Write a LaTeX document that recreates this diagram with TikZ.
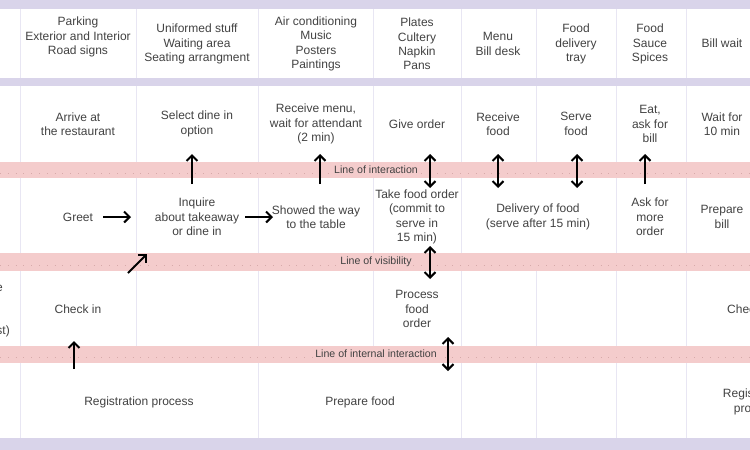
\documentclass[tikz,border=0pt]{standalone}
\usepackage{fontspec}
\setmainfont{Liberation Sans}
\usetikzlibrary{arrows.meta}
\definecolor{lav}{RGB}{217,212,234}
\definecolor{pinkb}{RGB}{244,204,204}
\definecolor{dotc}{RGB}{215,170,170}
\definecolor{vl}{RGB}{232,230,243}
\definecolor{txtc}{RGB}{66,66,66}
\begin{document}
\begin{tikzpicture}[x=1pt,y=-1pt,
  vline/.style={draw=vl,line width=1pt},
  dotline/.style={draw=dotc,line width=0.6pt,dash pattern=on 0.8pt off 7pt},
  txt/.style={text=txtc,align=center,inner sep=0pt,font=\fontsize{12}{14.3}\selectfont},
  lbl/.style={text=txtc,align=center,inner sep=0pt,font=\fontsize{10.6}{12}\selectfont},
  arr/.style={draw=black,line width=2.1pt,-{Straight Barb[length=5.5pt,width=11pt]}},
  darr/.style={draw=black,line width=2.1pt,{Straight Barb[length=5.5pt,width=11pt]}-{Straight Barb[length=5.5pt,width=11pt]}}]
\useasboundingbox (0,0) rectangle (750,450);
\clip (0,0) rectangle (750,450);
\fill[white] (0,0) rectangle (750,450);
% vertical separators
\foreach \x in {20,136,258,373,461,536,616,686} \draw[vline] (\x,9) -- (\x,162);
\foreach \x in {20,136,258,373,461,616,686} \draw[vline] (\x,178) -- (\x,253);
\foreach \x in {20,136,258,373,461,536,616,686} \draw[vline] (\x,271) -- (\x,346);
\foreach \x in {20,258,461,536,616,686} \draw[vline] (\x,363) -- (\x,438);
% bands
\fill[lav] (0,0) rectangle (750,9);
\fill[lav] (0,78) rectangle (750,86);
\fill[lav] (0,438) rectangle (750,450);
\fill[pinkb] (0,162) rectangle (750,178);
\fill[pinkb] (0,253) rectangle (750,271);
\fill[pinkb] (0,346) rectangle (750,363);
\draw[dotline] (0,173) -- (750,173);
\draw[dotline] (0,265) -- (750,265);
\draw[dotline] (0,357) -- (750,357);
\node[lbl,fill=pinkb,inner sep=1pt] (li) at (376,170) {Line of interaction};
\node[lbl,fill=pinkb,inner sep=1pt] (lv) at (376,262) {Line of visibility};
\node[lbl,fill=pinkb,inner sep=1pt] (lii) at (376,354) {Line of internal interaction};
% header row
\node[txt] (h1) at (78,37) {Parking\\Exterior and Interior\\Road signs};
\node[txt] (h2) at (197,44) {Uniformed stuff\\Waiting area\\Seating arrangment};
\node[txt] (h3) at (316,44) {Air conditioning\\Music\\Posters\\Paintings};
\node[txt] (h4) at (417,44) {Plates\\Cultery\\Napkin\\Pans};
\node[txt] (h5) at (498,44) {Menu\\Bill desk};
\node[txt] (h6) at (576,44) {Food\\delivery\\tray};
\node[txt] (h7) at (650,44) {Food\\Sauce\\Spices};
\node[txt] (h8) at (722,43) {Bill wait};
% customer actions
\node[txt] (c1) at (78,124) {Arrive at\\the restaurant};
\node[txt] (c2) at (197,124) {Select dine in\\option};
\node[txt] (c3) at (316,124) {Receive menu,\\wait for attendant\\(2 min)};
\node[txt] (c4) at (417,124) {Give order};
\node[txt] (c5) at (498,124) {Receive\\food};
\node[txt] (c6) at (576,124) {Serve\\food};
\node[txt] (c7) at (650,124) {Eat,\\ask for\\bill};
\node[txt] (c8) at (722,124) {Wait for\\10 min};
% onstage
\node[txt] (o1) at (78,217) {Greet};
\node[txt] (o2) at (197,217) {Inquire\\about takeaway\\or dine in};
\node[txt] (o3) at (316,217) {Showed the way\\to the table};
\node[txt] (o4) at (417,217) {Take food order\\(commit to\\serve in\\15 min)};
\node[txt] (o5) at (538,217) {Delivery of food\\(serve after 15 min)};
\node[txt] (o6) at (650,217) {Ask for\\more\\order};
\node[txt] (o7) at (722,217) {Prepare\\bill};
% backstage
\node[txt,anchor=east] (bl1) at (3,288) {e};
\node[txt,anchor=east] (bl2) at (10,331) {st)};
\node[txt] (b1) at (78,309) {Check in};
\node[txt] (b2) at (417,309) {Process\\food\\order};
\node[txt,anchor=west] (b3) at (727,309) {Check out};
% support
\node[txt] (s1) at (139,402) {Registration process};
\node[txt] (s2) at (360,402) {Prepare food};
\node[txt] (s3) at (755,402) {Registration\\process};
% arrow coordinates
\coordinate (g1) at (103,217); \coordinate (g2) at (131,217);
\coordinate (i1) at (245,217); \coordinate (i2) at (273,217);
\coordinate (u1a) at (192,184); \coordinate (u1b) at (192,154);
\coordinate (u2a) at (320,184); \coordinate (u2b) at (320,154);
\coordinate (d1a) at (430,154); \coordinate (d1b) at (430,188);
\coordinate (d2a) at (498,154); \coordinate (d2b) at (498,188);
\coordinate (d3a) at (577,154); \coordinate (d3b) at (577,188);
\coordinate (u3a) at (645,184); \coordinate (u3b) at (645,154);
\coordinate (n1a) at (128,273); \coordinate (n1b) at (147,254);
\coordinate (d4a) at (430,246); \coordinate (d4b) at (430,279);
\coordinate (u4a) at (74,369); \coordinate (u4b) at (74,341);
\coordinate (d5a) at (448,337); \coordinate (d5b) at (448,371);
\draw[arr] (g1) -- (g2);
\draw[arr] (i1) -- (i2);
\draw[arr] (u1a) -- (u1b);
\draw[arr] (u2a) -- (u2b);
\draw[darr] (d1a) -- (d1b);
\draw[darr] (d2a) -- (d2b);
\draw[darr] (d3a) -- (d3b);
\draw[arr] (u3a) -- (u3b);
\draw[arr] (n1a) -- (n1b);
\draw[darr] (d4a) -- (d4b);
\draw[arr] (u4a) -- (u4b);
\draw[darr] (d5a) -- (d5b);
\end{tikzpicture}
\end{document}
